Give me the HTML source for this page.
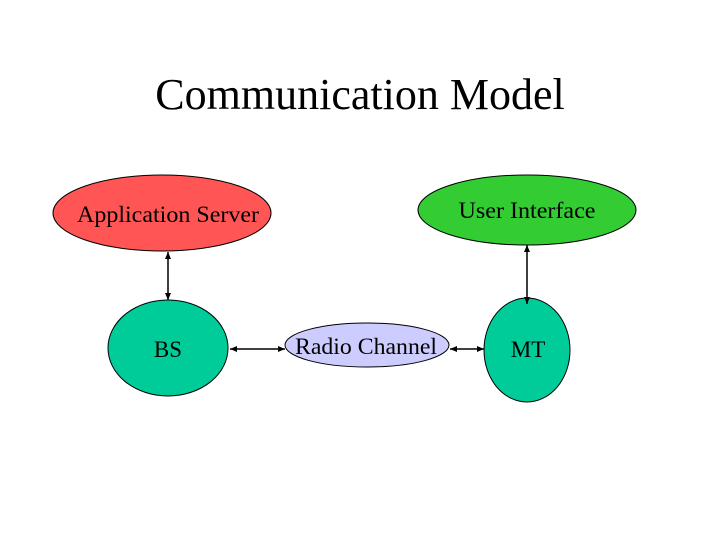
<!DOCTYPE html>
<html><head><style>html,body{margin:0;padding:0;background:#fff;}</style></head>
<body>
<svg width="720" height="540" xmlns="http://www.w3.org/2000/svg" font-family="Liberation Serif, serif">
<defs>
<marker id="a" markerWidth="8" markerHeight="8" refX="7" refY="4" orient="auto-start-reverse" markerUnits="userSpaceOnUse"><path d="M0,1 L7,4 L0,7 z" fill="#000"/></marker>
</defs>
<text x="360" y="109" font-size="44" text-anchor="middle">Communication Model</text>
<ellipse cx="162" cy="213" rx="109" ry="38" fill="#ff5555" stroke="#000" stroke-width="1"/>
<text x="168" y="222" font-size="23" text-anchor="middle" textLength="182" lengthAdjust="spacingAndGlyphs">Application Server</text>
<ellipse cx="527" cy="210" rx="109" ry="35" fill="#33cc33" stroke="#000" stroke-width="1"/>
<text x="527" y="218" font-size="23" text-anchor="middle" textLength="137" lengthAdjust="spacingAndGlyphs">User Interface</text>
<ellipse cx="168" cy="348" rx="60" ry="48" fill="#00cc99" stroke="#000" stroke-width="1"/>
<text x="168" y="357" font-size="23" text-anchor="middle">BS</text>
<ellipse cx="367" cy="345" rx="82" ry="22" fill="#ccccff" stroke="#000" stroke-width="1"/>
<text x="366" y="354" font-size="23" text-anchor="middle" textLength="142" lengthAdjust="spacingAndGlyphs">Radio Channel</text>
<ellipse cx="527" cy="350" rx="43" ry="52" fill="#00cc99" stroke="#000" stroke-width="1"/>
<text x="528" y="357" font-size="23" text-anchor="middle">MT</text>
<g stroke="#000" stroke-width="1.5" marker-start="url(#a)" marker-end="url(#a)">
<line x1="168" y1="252" x2="168" y2="300"/>
<line x1="527" y1="245" x2="527" y2="304"/>
<line x1="230" y1="349" x2="285" y2="349"/>
<line x1="450" y1="349" x2="484" y2="349"/>
</g>
</svg>
</body></html>
